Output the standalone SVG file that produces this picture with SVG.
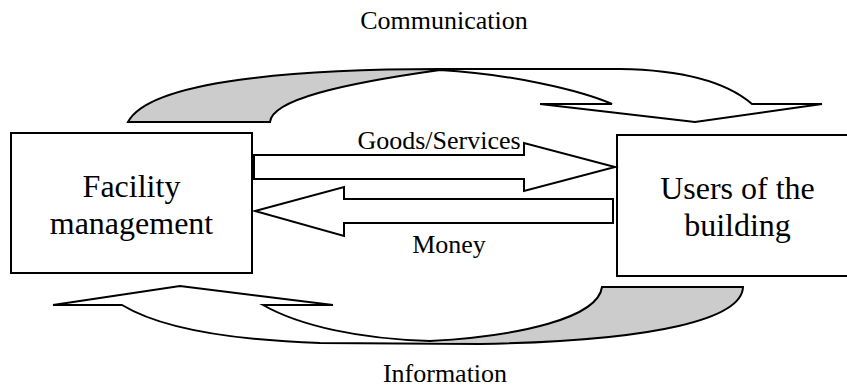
<svg xmlns="http://www.w3.org/2000/svg" xmlns:xlink="http://www.w3.org/1999/xlink" width="847" height="387" viewBox="0 0 847 387">
  <style>
    .box { fill: #ffffff; stroke: #000000; stroke-width: 2; }
    text { font-family: "Liberation Serif", "Times New Roman", serif; fill: #000000; text-anchor: middle; }
    .title { font-size: 32px; }
    .label { font-size: 26px; }
    .arrow { fill: #ffffff; stroke: #000000; stroke-width: 2; stroke-linejoin: miter; }
    .band-fill { fill: #ffffff; stroke: none; }
    .band-shade { fill: #cccccc; stroke: none; }
    .band-line { fill: none; stroke: #000000; stroke-width: 2; stroke-linejoin: miter; }
  </style>
  <defs>
    <!-- upper curved arrow (left to right, over the top) -->
    <path id="band-top" d="M128,122 C150,80 300,69 440,69 L620,69 C690,70 730,85 752,104 L822,104 L695,122 L540,104 L612,104 C580,90 510,74 440,70 C340,84 272,100 270,122 Z"/>
    <!-- lower curved arrow (right to left, underneath) -->
    <path id="band-bottom" d="M53,305 L180,286 L333,305 L263,305 C300,326 360,339 430,341 C520,336 598,318 602,287 L743,287 C742,318 660,341 480,344 L320,343 C230,340 160,328 122,305 Z"/>
  </defs>

  <rect width="847" height="387" fill="#ffffff"/>

  <g id="facility-management">
    <rect class="box" x="11" y="133" width="241" height="140"/>
    <text class="title" x="131.5" y="197" font-family="Liberation Serif, serif">Facility</text>
    <text class="title" x="131.5" y="234" font-family="Liberation Serif, serif">management</text>
  </g>

  <g id="users-of-the-building">
    <rect class="box" x="617" y="135" width="241" height="141"/>
    <text class="title" x="737.5" y="199" font-family="Liberation Serif, serif">Users of the</text>
    <text class="title" x="737.5" y="236" font-family="Liberation Serif, serif">building</text>
  </g>

  <g id="connectors">
    <!-- Communication -->
    <g id="communication">
      <use xlink:href="#band-top" class="band-fill"/>
      <path class="band-shade" d="M128,122 C150,80 300,69 440,69 L440,70 C340,84 272,100 270,122 Z"/>
      <use xlink:href="#band-top" class="band-line"/>
      <text class="label" x="444" y="29">Communication</text>
    </g>

    <!-- Goods/Services -->
    <g id="goods-services">
      <path class="arrow" d="M254,155 L524,155 L524,143 L615,167 L524,191 L524,179 L254,179 Z"/>
      <text class="label" x="439" y="149">Goods/Services</text>
    </g>

    <!-- Money -->
    <g id="money">
      <path class="arrow" d="M613,199 L344,199 L344,187 L255,211 L344,236 L344,223 L613,223 Z"/>
      <text class="label" x="449" y="253">Money</text>
    </g>

    <!-- Information -->
    <g id="information">
      <use xlink:href="#band-bottom" class="band-fill"/>
      <path class="band-shade" d="M430,341 C520,336 598,318 602,287 L743,287 C742,318 660,341 480,344 Z"/>
      <use xlink:href="#band-bottom" class="band-line"/>
      <text class="label" x="445" y="382">Information</text>
    </g>
  </g>
</svg>
